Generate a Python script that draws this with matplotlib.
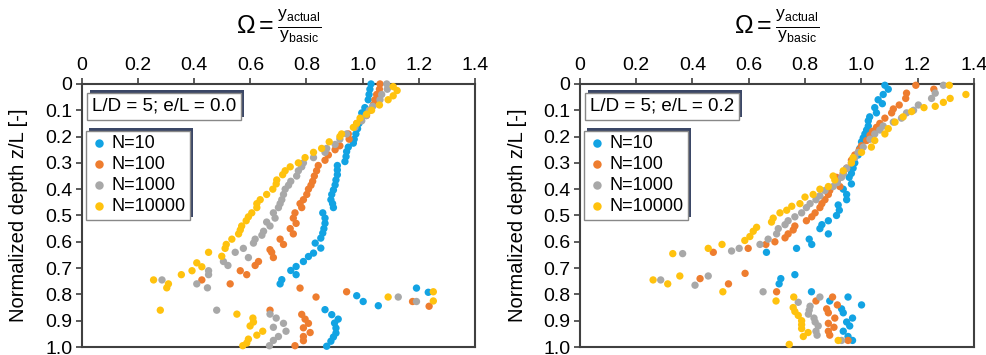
import numpy as np
import matplotlib
matplotlib.use("Agg")
import matplotlib.pyplot as plt
from matplotlib.patches import Rectangle

plt.rcParams['font.family'] = ['Liberation Sans', 'DejaVu Sans']
plt.rcParams['mathtext.fontset'] = 'custom'
plt.rcParams['mathtext.rm'] = 'Liberation Sans'
plt.rcParams['mathtext.it'] = 'Liberation Sans:italic'

# ---- data: e/L = 0.0 (left panel) ----
z10_a = [0.00, 0.02, 0.04, 0.06, 0.09, 0.11, 0.13, 0.15, 0.17, 0.19, 0.21, 0.225, 0.24, 0.257, 0.276, 0.295,
         0.31, 0.327, 0.345, 0.365, 0.384, 0.403, 0.42, 0.44, 0.455, 0.47, 0.49, 0.51, 0.53, 0.55, 0.567,
         0.586, 0.605, 0.624, 0.643, 0.656, 0.675, 0.694, 0.709, 0.725, 0.744, 0.76,
         0.776, 0.792, 0.805, 0.827, 0.843, 0.858, 0.877, 0.894, 0.909, 0.928, 0.947, 0.962, 0.978, 0.997]
w10_a = [1.03, 1.026, 1.023, 1.02, 1.008, 0.997, 0.993, 0.987, 0.982, 0.976, 0.97, 0.967, 0.949, 0.943, 0.941, 0.937,
         0.91, 0.91, 0.91, 0.905, 0.902, 0.896, 0.89, 0.887, 0.893, 0.896, 0.858, 0.866, 0.866, 0.862, 0.858,
         0.851, 0.831, 0.851, 0.825, 0.807, 0.789, 0.763, 0.744, 0.763, 0.712, 0.706,
         1.192, 1.234, 0.979, 1.002, 1.056, 0.866, 0.89, 0.913, 0.9, 0.905, 0.905, 0.896, 0.887, 0.872]

z100_a = [0.00, 0.02, 0.04, 0.06, 0.08, 0.10, 0.12, 0.15, 0.19, 0.21, 0.235, 0.25, 0.27, 0.29, 0.31, 0.33,
          0.35, 0.37, 0.385, 0.40, 0.42, 0.44, 0.455, 0.47, 0.49, 0.51, 0.53, 0.55, 0.57, 0.59, 0.61, 0.63,
          0.64, 0.66, 0.675, 0.69, 0.71, 0.725, 0.745, 0.76,
          0.776, 0.79, 0.81, 0.827, 0.845, 0.86, 0.876, 0.894, 0.91, 0.927, 0.945, 0.96, 0.976, 0.995]
w100_a = [1.062, 1.06, 1.05, 1.044, 1.038, 1.026, 1.014, 0.979, 0.949, 0.952, 0.919, 0.902, 0.878, 0.866, 0.842, 0.836,
          0.828, 0.822, 0.816, 0.807, 0.801, 0.789, 0.777, 0.783, 0.759, 0.753, 0.763, 0.742, 0.753, 0.706, 0.718, 0.67,
          0.676, 0.682, 0.629, 0.617, 0.564, 0.587, 0.427, 0.528,
          0.777, 0.943, 0.834, 1.178, 1.237, 0.67, 0.783, 0.795, 0.807, 0.789, 0.813, 0.789, 0.789, 0.759]

z1000_a = [0.00, 0.02, 0.04, 0.06, 0.085, 0.10, 0.12, 0.14, 0.165, 0.19, 0.21, 0.23, 0.245, 0.26, 0.28, 0.30,
           0.315, 0.33, 0.35, 0.37, 0.385, 0.40, 0.42, 0.44, 0.455, 0.47, 0.49, 0.51, 0.525, 0.54, 0.56, 0.575,
           0.59, 0.605, 0.625, 0.64, 0.66, 0.675, 0.69, 0.71, 0.725, 0.745, 0.76, 0.775,
           0.81, 0.827, 0.86, 0.875, 0.89, 0.91, 0.925, 0.94, 0.96, 0.975, 0.995]
w1000_a = [1.086, 1.088, 1.068, 1.062, 1.036, 1.024, 1.012, 0.997, 0.973, 0.943, 0.919, 0.902, 0.872, 0.866, 0.825, 0.789,
           0.783, 0.771, 0.765, 0.744, 0.736, 0.724, 0.718, 0.712, 0.706, 0.70, 0.682, 0.688, 0.658, 0.67, 0.647, 0.641,
           0.617, 0.611, 0.575, 0.546, 0.593, 0.504, 0.52, 0.451, 0.451, 0.285, 0.409, 0.447,
           1.127, 1.192, 0.48, 0.67, 0.692, 0.718, 0.682, 0.727, 0.70, 0.682, 0.668]

z10000_a = [0.01, 0.025, 0.045, 0.06, 0.08, 0.10, 0.115, 0.13, 0.15, 0.165, 0.19, 0.20, 0.22, 0.245, 0.26, 0.28,
            0.30, 0.315, 0.33, 0.345, 0.365, 0.38, 0.40, 0.42, 0.44, 0.455, 0.47, 0.49, 0.505, 0.52, 0.54, 0.555,
            0.57, 0.59, 0.61, 0.625, 0.64, 0.655, 0.68, 0.695, 0.71, 0.725, 0.745, 0.76, 0.775,
            0.79, 0.81, 0.825, 0.86, 0.875, 0.89, 0.905, 0.92, 0.94, 0.955, 0.97, 0.985, 0.995]
w10000_a = [1.109, 1.123, 1.109, 1.091, 1.06, 1.032, 1.014, 0.991, 0.979, 0.967, 0.925, 0.919, 0.881, 0.854, 0.825, 0.795,
            0.771, 0.742, 0.724, 0.715, 0.694, 0.692, 0.68, 0.658, 0.635, 0.623, 0.623, 0.605, 0.593, 0.585, 0.569, 0.564,
            0.558, 0.534, 0.514, 0.51, 0.451, 0.498, 0.409, 0.427, 0.392, 0.354, 0.255, 0.308, 0.302,
            1.252, 1.091, 1.252, 0.279, 0.552, 0.609, 0.611, 0.599, 0.644, 0.623, 0.593, 0.587, 0.573]

# ---- data: e/L = 0.2 (right panel) ----
z10_b = [0.005, 0.02, 0.04, 0.06, 0.075, 0.09, 0.11, 0.125, 0.14, 0.16, 0.175, 0.19, 0.205, 0.22, 0.245, 0.27,
         0.30, 0.32, 0.34, 0.355, 0.38, 0.40, 0.42, 0.44, 0.46, 0.48, 0.50, 0.52, 0.535, 0.55, 0.57, 0.59,
         0.61, 0.625, 0.64, 0.725, 0.74, 0.76, 0.79, 0.81, 0.825, 0.84, 0.855, 0.87, 0.89, 0.905, 0.92,
         0.94, 0.96, 0.975]
w10_b = [1.084, 1.096, 1.078, 1.06, 1.075, 1.048, 1.054, 1.03, 1.025, 1.025, 1.019, 1.013, 1.007, 1.001, 0.995, 0.989,
         0.977, 0.971, 0.965, 0.957, 0.965, 0.936, 0.948, 0.948, 0.918, 0.922, 0.912, 0.883, 0.86, 0.853, 0.883, 0.815,
         0.824, 0.77, 0.663, 0.764, 0.714, 0.708, 0.823, 0.953, 0.888, 1.001, 0.93, 0.936, 0.969, 0.948, 0.959,
         0.936, 0.953, 0.969]

z100_b = [0.005, 0.02, 0.035, 0.055, 0.08, 0.095, 0.11, 0.13, 0.15, 0.165, 0.18, 0.195, 0.215, 0.235, 0.25, 0.27,
          0.29, 0.32, 0.34, 0.355, 0.37, 0.39, 0.405, 0.42, 0.44, 0.455, 0.47, 0.49, 0.505, 0.52, 0.54, 0.555,
          0.57, 0.585, 0.60, 0.61, 0.625, 0.64, 0.72, 0.74, 0.76, 0.79, 0.81, 0.825, 0.84, 0.855, 0.87,
          0.89, 0.91, 0.925, 0.94, 0.955, 0.975]
w100_b = [1.194, 1.258, 1.161, 1.158, 1.135, 1.114, 1.108, 1.084, 1.066, 1.054, 1.04, 1.031, 1.019, 1.001, 0.993, 0.977,
          0.965, 0.948, 0.936, 0.912, 0.915, 0.924, 0.888, 0.883, 0.871, 0.86, 0.853, 0.836, 0.824, 0.805, 0.764, 0.758,
          0.74, 0.729, 0.693, 0.661, 0.598, 0.474, 0.587, 0.427, 0.528, 0.699, 0.898, 0.839, 0.915, 0.877, 0.883,
          0.906, 0.883, 0.903, 0.883, 0.888, 0.953]

z1000_b = [0.005, 0.035, 0.055, 0.08, 0.10, 0.11, 0.13, 0.145, 0.16, 0.175, 0.19, 0.21, 0.24, 0.26, 0.28, 0.30,
           0.32, 0.34, 0.355, 0.375, 0.39, 0.405, 0.425, 0.44, 0.455, 0.47, 0.49, 0.505, 0.52, 0.535, 0.55, 0.57,
           0.59, 0.61, 0.625, 0.635, 0.645, 0.73, 0.745, 0.765, 0.79, 0.81, 0.83, 0.845, 0.86, 0.875, 0.89,
           0.905, 0.92, 0.94, 0.955, 0.975]
w1000_b = [1.292, 1.263, 1.25, 1.203, 1.186, 1.161, 1.143, 1.114, 1.078, 1.066, 1.048, 1.031, 1.007, 0.989, 0.977, 0.965,
           0.948, 0.936, 0.93, 0.915, 0.90, 0.871, 0.853, 0.839, 0.818, 0.805, 0.788, 0.764, 0.74, 0.729, 0.705, 0.699,
           0.669, 0.64, 0.566, 0.539, 0.365, 0.456, 0.287, 0.409, 0.651, 0.853, 0.776, 0.818, 0.815, 0.812, 0.832,
           0.836, 0.847, 0.839, 0.843, 0.93]

z10000_b = [0.005, 0.04, 0.055, 0.07, 0.085, 0.09, 0.105, 0.125, 0.145, 0.17, 0.19, 0.215, 0.24, 0.26, 0.28, 0.30,
            0.33, 0.35, 0.365, 0.39, 0.40, 0.42, 0.43, 0.455, 0.465, 0.48, 0.49, 0.51, 0.525, 0.545, 0.56, 0.58,
            0.595, 0.61, 0.625, 0.645, 0.73, 0.745, 0.76, 0.79, 0.81, 0.825, 0.85, 0.865, 0.88, 0.90, 0.915,
            0.93, 0.945, 0.96, 0.975, 0.99]
w10000_b = [1.313, 1.372, 1.316, 1.292, 1.263, 1.223, 1.179, 1.149, 1.12, 1.096, 1.084, 1.048, 1.036, 1.001, 0.971, 0.965,
            0.936, 0.90, 0.906, 0.883, 0.853, 0.829, 0.80, 0.782, 0.753, 0.735, 0.711, 0.687, 0.681, 0.628, 0.616, 0.604,
            0.586, 0.505, 0.456, 0.33, 0.355, 0.26, 0.312, 0.508, 0.76, 0.697, 0.758, 0.764, 0.776, 0.788, 0.788,
            0.788, 0.811, 0.794, 0.918, 0.744]

labels = ['N=10', 'N=100', 'N=1000', 'N=10000']
colors = ['#12a3e3', '#ee7d2f', '#a8a8a8', '#ffc20e']
panel_titles = ['L/D = 5; e/L = 0.0', 'L/D = 5; e/L = 0.2']
xticks = [0, 0.2, 0.4, 0.6, 0.8, 1.0, 1.2, 1.4]
xticklabels = ['0', '0.2', '0.4', '0.6', '0.8', '1.0', '1.2', '1.4']
yticks = [0, 0.1, 0.2, 0.3, 0.4, 0.5, 0.6, 0.7, 0.8, 0.9, 1.0]
yticklabels = ['0', '0.1', '0.2', '0.3', '0.4', '0.5', '0.6', '0.7', '0.8', '0.9', '1.0']

panels = [
    [(w10_a, z10_a), (w100_a, z100_a), (w1000_a, z1000_a), (w10000_a, z10000_a)],
    [(w10_b, z10_b), (w100_b, z100_b), (w1000_b, z1000_b), (w10000_b, z10000_b)],
]

fig = plt.figure(figsize=(9.87, 3.55), dpi=100)
axes = [fig.add_axes([0.0831, 0.0225, 0.398, 0.741]),
        fig.add_axes([0.5876, 0.0225, 0.399, 0.741])]

spine_col = '#404040'
boxes = []
for k, ax in enumerate(axes):
    for (w, z), lab, col in zip(panels[k], labels, colors):
        ax.scatter(w, z, s=28, color=col, edgecolors='none', label=lab, zorder=3, clip_on=False)
    ax.set_xlim(0, 1.4)
    ax.set_ylim(1.0, 0)
    ax.xaxis.tick_top()
    ax.set_xticks(xticks)
    ax.set_xticklabels(xticklabels)
    ax.set_yticks(yticks)
    ax.set_yticklabels(yticklabels)
    ax.tick_params(axis='both', labelsize=14, length=4, width=1.2, color=spine_col, direction='out', pad=3)
    for sp in ax.spines.values():
        sp.set_color(spine_col)
        sp.set_linewidth(1.5)
    ax.set_ylabel('Normalized depth z/L [-]', fontsize=14.5)
    ax.yaxis.set_label_coords(-0.137 if k == 0 else -0.135, 0.5)

    t = ax.text(0.025, 0.915, panel_titles[k], transform=ax.transAxes, fontsize=13.5, va='center', ha='left',
                zorder=6, bbox=dict(boxstyle='square,pad=0.25', facecolor='white', edgecolor='#888888', lw=1.0))
    leg = ax.legend(loc='upper left', bbox_to_anchor=(0.01, 0.822), fontsize=13, frameon=True, fancybox=False,
                    edgecolor='#888888', framealpha=1, handletextpad=0.15, borderpad=0.25, labelspacing=0.22,
                    handlelength=1.0, borderaxespad=0.0, markerscale=1.15)
    leg.get_frame().set_linewidth(1.0)
    boxes.append((ax, t, leg))

    cx = (ax.get_position().x0 + ax.get_position().x1) / 2
    fig.text(cx, 0.925, r'$\Omega = \frac{\mathrm{y}_{\mathrm{actual}}}{\mathrm{y}_{\mathrm{basic}}}$',
             ha='center', va='center', fontsize=18)

fig.canvas.draw()
rend = fig.canvas.get_renderer()
for ax, t, leg in boxes:
    for art in (t.get_bbox_patch(), leg.get_frame()):
        bb = art.get_window_extent(rend)
        sh = Rectangle((bb.x0 + 3, bb.y0 + 3), bb.width, bb.height, transform=None,
                       facecolor='#3b4766', edgecolor='none', zorder=4.5)
        ax.add_artist(sh)

fig.savefig('out.png', dpi=100)
